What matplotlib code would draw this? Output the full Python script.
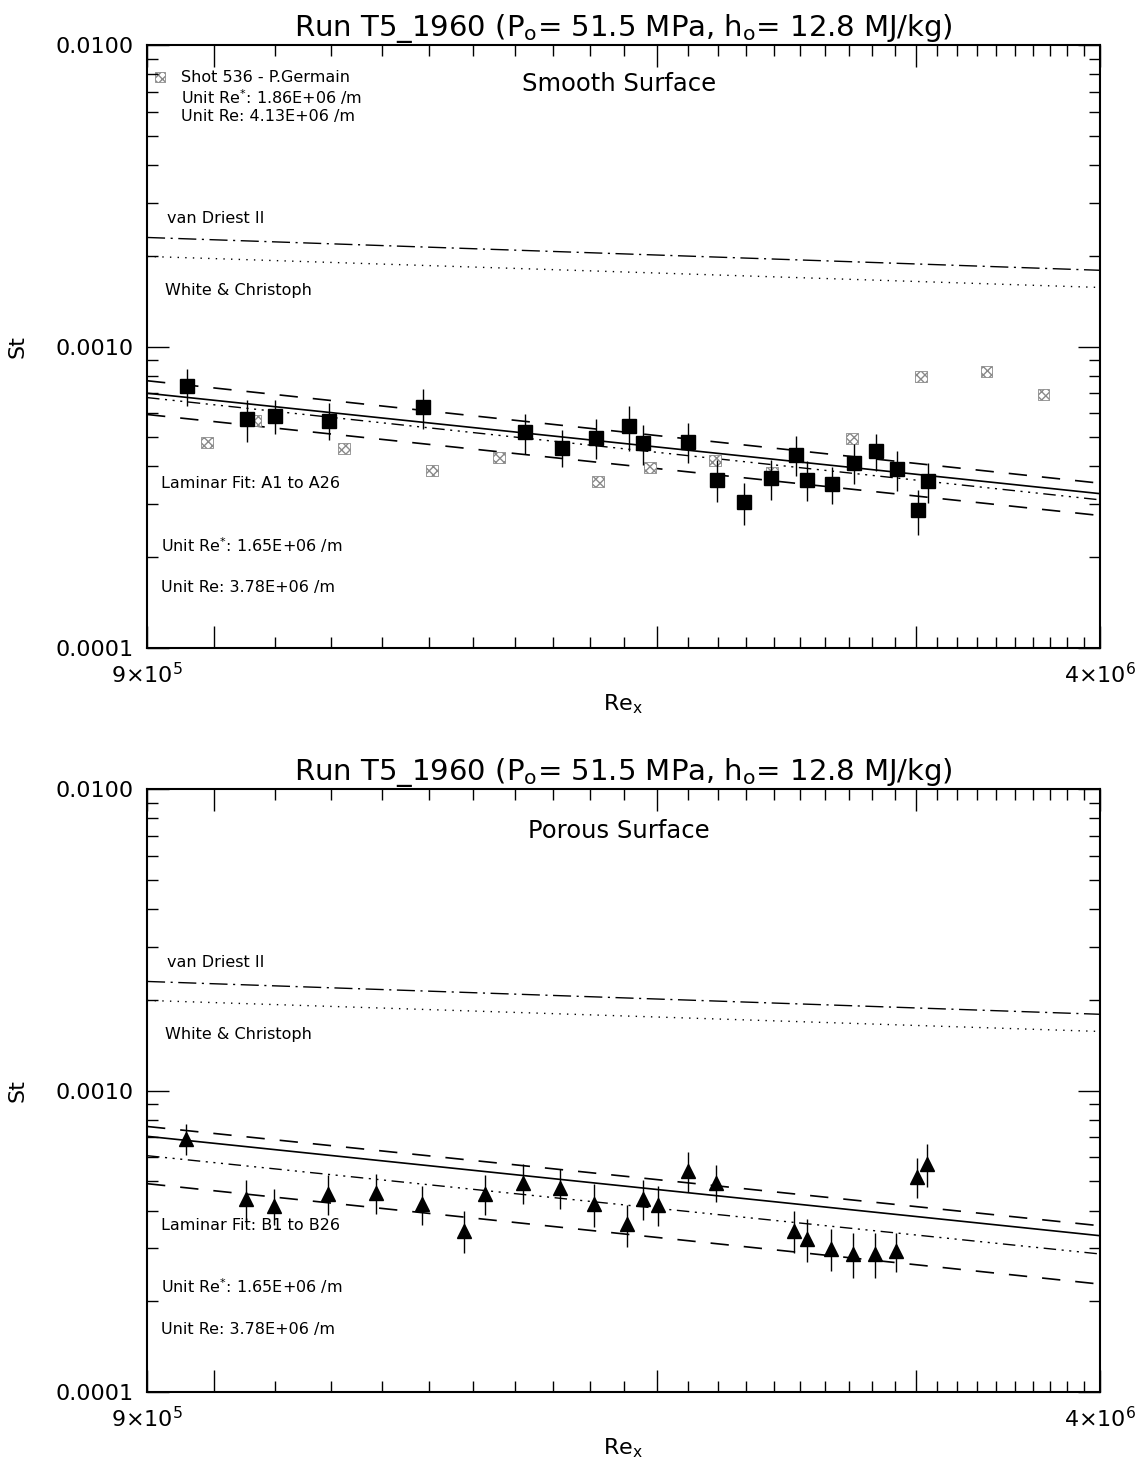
import matplotlib
matplotlib.use("Agg")
import matplotlib.pyplot as plt
import numpy as np
from matplotlib.ticker import FixedLocator, NullFormatter

plt.rcParams['font.family'] = ['DejaVu Sans']

# ---------------- data ----------------
re_range = [9e5, 4e6]

vdriest_st = [2.30e-3, 1.79e-3]
white_st = [1.99e-3, 1.57e-3]

smooth_fit = [7.00e-4, 3.25e-4]
smooth_fit_hi = [7.70e-4, 3.52e-4]
smooth_fit_mid = [6.77e-4, 3.10e-4]
smooth_fit_lo = [5.95e-4, 2.75e-4]

porous_fit = [7.05e-4, 3.30e-4]
porous_fit_hi = [7.60e-4, 3.56e-4]
porous_fit_mid = [6.08e-4, 2.87e-4]
porous_fit_lo = [4.91e-4, 2.28e-4]

smooth_re = [9.58e5, 1.052e6, 1.100e6, 1.197e6, 1.386e6, 1.626e6, 1.724e6, 1.818e6,
             1.914e6, 1.957e6, 2.099e6, 2.197e6, 2.291e6, 2.390e6, 2.486e6, 2.529e6,
             2.630e6, 2.722e6, 2.818e6, 2.912e6, 3.009e6, 3.057e6]
smooth_st = [7.37e-4, 5.73e-4, 5.90e-4, 5.68e-4, 6.28e-4, 5.19e-4, 4.62e-4, 4.99e-4,
             5.43e-4, 4.77e-4, 4.84e-4, 3.62e-4, 3.04e-4, 3.65e-4, 4.38e-4, 3.62e-4,
             3.49e-4, 4.12e-4, 4.49e-4, 3.91e-4, 2.86e-4, 3.57e-4]
smooth_rel_err = [0.14, 0.16, 0.13, 0.14, 0.15, 0.15, 0.14, 0.15,
                  0.17, 0.15, 0.15, 0.16, 0.16, 0.15, 0.15, 0.15,
                  0.14, 0.15, 0.14, 0.15, 0.17, 0.15]

germain_re = [9.89e5, 1.066e6, 1.225e6, 1.406e6, 1.561e6, 1.823e6, 1.978e6,
              2.190e6, 2.394e6, 2.714e6, 3.023e6, 3.348e6, 3.661e6]
germain_st = [4.80e-4, 5.68e-4, 4.59e-4, 3.88e-4, 4.28e-4, 3.57e-4, 3.97e-4,
              4.19e-4, 3.82e-4, 4.95e-4, 7.95e-4, 8.26e-4, 6.93e-4]

porous_re = [9.57e5, 1.051e6, 1.098e6, 1.195e6, 1.288e6, 1.384e6, 1.479e6, 1.528e6,
             1.622e6, 1.718e6, 1.812e6, 1.908e6, 1.957e6, 2.003e6, 2.099e6, 2.193e6,
             2.478e6, 2.529e6, 2.626e6, 2.718e6, 2.813e6, 2.907e6, 3.004e6, 3.052e6]
porous_st = [6.93e-4, 4.38e-4, 4.15e-4, 4.55e-4, 4.58e-4, 4.21e-4, 3.43e-4, 4.55e-4,
             4.95e-4, 4.76e-4, 4.21e-4, 3.61e-4, 4.38e-4, 4.18e-4, 5.42e-4, 4.95e-4,
             3.43e-4, 3.22e-4, 2.99e-4, 2.87e-4, 2.87e-4, 2.94e-4, 5.18e-4, 5.72e-4]
porous_rel_err = [0.12, 0.15, 0.14, 0.15, 0.15, 0.15, 0.16, 0.15,
                  0.15, 0.15, 0.16, 0.16, 0.15, 0.15, 0.15, 0.14,
                  0.16, 0.16, 0.16, 0.17, 0.17, 0.15, 0.15, 0.16]

y_ticks = [1e-4, 1e-3, 1e-2]
y_ticklabels = ['0.0001', '0.0010', '0.0100']
x_ticks = [9e5, 1e6, 2e6, 3e6, 4e6]
x_ticklabels = ['9×10$^5$', '', '', '', '4×10$^6$']

title = 'Run T5_1960 (P$_\\mathrm{o}$= 51.5 MPa, h$_\\mathrm{o}$= 12.8 MJ/kg)'

# ---------------- figure ----------------
fig = plt.figure(figsize=(11.38, 14.63), dpi=100)
ax1 = fig.add_axes([0.1292, 0.5571, 0.8374, 0.4121])
ax2 = fig.add_axes([0.1292, 0.0485, 0.8374, 0.4122])

vd_style = (0, (13, 4, 1.5, 4))
wc_style = (0, (1, 4.5))
dash_style = (0, (11, 9))
ddd_style = (0, (9, 4, 1.5, 4, 1.5, 4, 1.5, 4))

small = 11.5


def setup(ax):
    ax.set_xscale('log')
    ax.set_yscale('log')
    ax.set_xlim(re_range)
    ax.set_ylim(1e-4, 1e-2)
    ax.xaxis.set_major_locator(FixedLocator(x_ticks))
    ax.set_xticklabels(x_ticklabels)
    ax.xaxis.set_minor_locator(FixedLocator(np.arange(9e5, 4.0e6, 1e5)))
    ax.xaxis.set_minor_formatter(NullFormatter())
    ax.yaxis.set_major_locator(FixedLocator(y_ticks))
    ax.set_yticklabels(y_ticklabels)
    ax.yaxis.set_minor_locator(FixedLocator(
        [m * d for d in (1e-4, 1e-3) for m in range(2, 10)]))
    ax.yaxis.set_minor_formatter(NullFormatter())
    ax.tick_params(which='both', direction='in', top=True, right=True,
                   width=1.0, labelsize=16)
    ax.tick_params(which='major', length=16, pad=10)
    ax.tick_params(which='minor', length=8)
    for s in ax.spines.values():
        s.set_linewidth(1.5)
    ax.set_xlabel('Re$_\\mathrm{x}$', fontsize=16, labelpad=4)
    ax.set_ylabel('St', fontsize=16, labelpad=20)
    ax.set_title(title, fontsize=21, pad=4)
    ax.plot(re_range, vdriest_st, color='black', lw=1.0, linestyle=vd_style)
    ax.plot(re_range, white_st, color='black', lw=1.0, linestyle=wc_style)
    ax.text(0.021, 0.712, 'van Driest II', transform=ax.transAxes,
            fontsize=small, va='center', ha='left')
    ax.text(0.019, 0.593, 'White & Christoph', transform=ax.transAxes,
            fontsize=small, va='center', ha='left')


setup(ax1)
setup(ax2)

# ---- top panel ----
ax1.plot(re_range, smooth_fit, color='black', lw=1.2)
ax1.plot(re_range, smooth_fit_hi, color='black', lw=1.2, linestyle=dash_style)
ax1.plot(re_range, smooth_fit_lo, color='black', lw=1.2, linestyle=dash_style)
ax1.plot(re_range, smooth_fit_mid, color='black', lw=1.0, linestyle=ddd_style)

ax1.scatter(germain_re, germain_st, marker='s', s=70, facecolor='white',
            edgecolor='#8a8a8a', hatch='xxxx', linewidths=0.6, zorder=3)
s_st = np.array(smooth_st)
s_err = s_st * np.array(smooth_rel_err)
ax1.errorbar(smooth_re, smooth_st, yerr=s_err, fmt='s', color='black',
             markersize=10, elinewidth=1.0, capsize=0, zorder=4)

ax1.scatter([0.0136], [0.947], marker='s', s=45, facecolor='white',
            edgecolor='#8a8a8a', hatch='xxxx', linewidths=0.6,
            transform=ax1.transAxes, clip_on=False)
ax1.text(0.036, 0.947, 'Shot 536 - P.Germain', transform=ax1.transAxes,
         fontsize=small, va='center', ha='left')
ax1.text(0.036, 0.914, 'Unit Re$^{*}$: 1.86E+06 /m', transform=ax1.transAxes,
         fontsize=small, va='center', ha='left')
ax1.text(0.036, 0.882, 'Unit Re: 4.13E+06 /m', transform=ax1.transAxes,
         fontsize=small, va='center', ha='left')
ax1.text(0.495, 0.935, 'Smooth Surface', transform=ax1.transAxes,
         fontsize=17.5, va='center', ha='center')
ax1.text(0.0147, 0.272, 'Laminar Fit: A1 to A26', transform=ax1.transAxes,
         fontsize=small, va='center', ha='left')
ax1.text(0.0147, 0.171, 'Unit Re$^{*}$: 1.65E+06 /m', transform=ax1.transAxes,
         fontsize=small, va='center', ha='left')
ax1.text(0.0147, 0.0995, 'Unit Re: 3.78E+06 /m', transform=ax1.transAxes,
         fontsize=small, va='center', ha='left')

# ---- bottom panel ----
ax2.plot(re_range, porous_fit, color='black', lw=1.2)
ax2.plot(re_range, porous_fit_hi, color='black', lw=1.2, linestyle=dash_style)
ax2.plot(re_range, porous_fit_lo, color='black', lw=1.2, linestyle=dash_style)
ax2.plot(re_range, porous_fit_mid, color='black', lw=1.0, linestyle=ddd_style)

p_st = np.array(porous_st)
p_err = p_st * np.array(porous_rel_err)
ax2.errorbar(porous_re, porous_st, yerr=p_err, fmt='^', color='black',
             markersize=10, elinewidth=1.0, capsize=0, zorder=4)

ax2.text(0.495, 0.930, 'Porous Surface', transform=ax2.transAxes,
         fontsize=17.5, va='center', ha='center')
ax2.text(0.0147, 0.277, 'Laminar Fit: B1 to B26', transform=ax2.transAxes,
         fontsize=small, va='center', ha='left')
ax2.text(0.0147, 0.176, 'Unit Re$^{*}$: 1.65E+06 /m', transform=ax2.transAxes,
         fontsize=small, va='center', ha='left')
ax2.text(0.0147, 0.104, 'Unit Re: 3.78E+06 /m', transform=ax2.transAxes,
         fontsize=small, va='center', ha='left')

fig.savefig('out.png', dpi=100)
